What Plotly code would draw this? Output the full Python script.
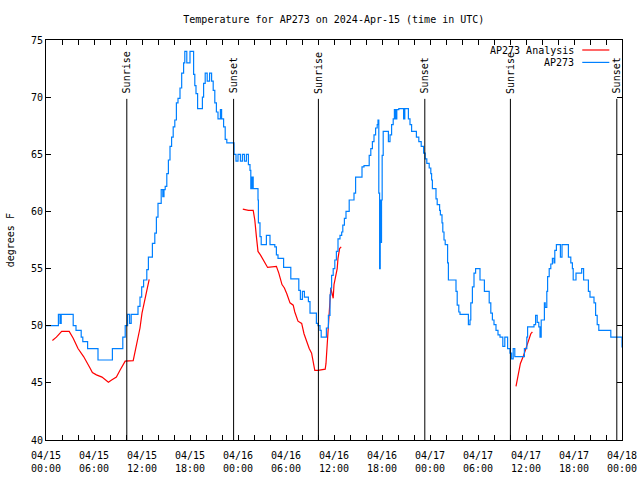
import pandas as pd
import plotly.graph_objects as go

# ---- data (hours since 2024-04-15 00:00 UTC) ----
obs_hours = [0, 1.55, 1.75, 1.9, 3.4, 3.75, 4.4, 4.6, 5.2, 6.5, 8.3, 9.6, 9.9,
             10.2, 10.45, 10.65, 11.5, 11.75, 11.96, 12.2, 12.6, 12.8, 13.3, 13.6, 13.8,
             14.0, 14.4, 14.6, 14.75, 14.9, 15.1, 15.3, 15.5, 15.7, 15.9, 16.1, 16.3, 16.5, 16.75,
             16.96, 17.2, 17.35, 17.6, 18.0, 18.45, 18.6, 18.75, 18.95, 19.55, 19.7, 19.9, 20.15,
             20.45, 20.7, 20.9, 21.1, 21.3, 21.5, 21.8, 21.95, 22.2, 22.4, 22.6, 23.5, 23.75,
             24.0, 24.3, 24.55, 24.8, 25.05, 25.3, 25.5, 25.6, 25.75, 25.9, 26.1, 26.5, 26.55,
             26.75, 26.9, 27.55, 28.0, 28.6, 28.8, 29.0, 29.7, 30.6,
             31.6, 31.8, 32.05, 32.3, 32.8, 33.0, 33.8, 34.0, 34.25, 34.4, 35.05, 35.3,
             35.5, 35.6, 35.7, 35.9, 36.1, 36.3, 36.5, 36.75, 36.96, 37.1, 37.3, 37.5, 37.9, 38.5,
             38.7, 39.5, 39.75, 40.4, 40.6, 40.8, 41.0, 41.2, 41.4, 41.5, 41.6, 41.7, 41.78, 41.86,
             41.94, 42.02, 42.15, 42.8, 43.0, 43.2, 43.4, 43.55, 43.7, 43.85, 44.1, 44.7, 44.85, 45.3,
             45.5, 45.7, 46.3, 46.6, 46.9, 47.2, 47.4, 47.6, 47.9, 48.1, 48.2, 48.3, 48.75, 48.9,
             49.2, 49.3, 49.5, 49.6, 49.75, 49.9, 50.2, 50.3, 51.25, 51.4, 51.6, 51.75, 52.8, 53.0,
             53.1, 53.3, 53.5, 53.7, 54.25, 54.8, 55.4, 55.6, 55.8, 56.0, 56.25, 56.5, 56.75, 57.1,
             57.35, 57.7, 58.0, 58.2, 58.4, 58.6, 59.8, 60.1, 60.2, 61.0, 61.2,
             61.4, 61.6, 61.75, 61.9, 62.3, 62.4, 62.6, 62.7, 62.9, 63.1, 63.3, 63.5, 63.6, 63.8,
             64.3, 64.5, 65.3, 65.6, 65.8, 65.9, 66.25, 66.96, 67.2, 67.8, 68.0, 68.5, 68.7, 68.9,
             69.1, 70.6, 72.0]
obs_temp = [50.0, 51.0, 50.2, 51.0, 50.0, 49.6, 49.0, 48.6, 48.0, 47.0, 48.0, 49.0, 50.0,
            51.0, 50.2, 51.0, 51.7, 52.5, 53.4, 54.0, 54.9, 56.0, 57.2, 58.1, 59.5,
            60.7, 61.9, 61.3, 61.9, 62.2, 63.3, 64.5, 65.7, 66.5, 67.4, 68.0, 69.5, 69.9, 70.8,
            72.1, 73.0, 74.0, 73.0, 74.0, 72.0, 71.0, 70.3, 69.0, 70.0, 71.2, 72.1, 71.4,
            72.1, 71.4, 70.6, 69.5, 68.7, 68.1, 68.9, 68.1, 67.4, 66.3, 66.0, 65.0, 64.4,
            65.0, 64.4, 65.0, 64.4, 65.0, 64.1, 63.6, 62.0, 63.0, 62.0, 62.0, 61.0, 59.0,
            57.8, 57.1, 57.9, 57.1, 56.9, 56.2, 55.9, 55.1, 54.1,
            53.1, 52.3, 53.0, 52.5, 52.1, 51.1, 50.2, 50.0, 49.6, 49.0, 49.8, 50.9,
            52.7, 53.3, 54.4, 55.0, 55.75, 56.5, 57.6, 57.9, 58.2, 58.8, 59.4, 60.0, 61.0, 61.6,
            63.0, 63.9, 64.0, 64.9, 65.5, 66.1, 66.7, 67.3, 67.6, 68.0, 61.6, 55.0, 61.0, 57.3,
            61.0, 64.9, 67.0, 66.1, 66.7, 67.6, 68.1, 68.9, 68.1, 68.9, 69.0, 68.1, 69.0, 68.1,
            67.6, 67.0, 66.5, 66.1, 65.7, 65.1, 64.6, 64.2, 63.8, 63.3, 62.75, 62.0, 61.1, 60.6,
            60.1, 59.7, 59.0, 58.2, 57.5, 57.1, 55.5, 54.0, 53.0, 51.8, 51.2, 51.0, 50.1, 50.5,
            52.0, 53.4, 54.6, 55.0, 54.0, 53.0, 52.0, 51.1, 50.5, 50.1, 49.6, 49.2, 49.0, 48.2,
            49.0, 48.0, 47.6, 47.1, 48.0, 47.3, 48.0, 49.0, 49.9, 50.1, 50.9, 50.3,
            49.9, 49.0, 50.5, 52.0, 51.6, 53.0, 54.3, 55.0, 55.4, 55.9, 55.5, 56.6, 57.1, 56.0,
            57.1, 56.0, 55.5, 55.0, 54.0, 54.6, 55.0, 54.0, 53.0, 52.5, 52.0, 50.9, 50.1, 49.6,
            49.0, 48.1, 48.1]

ana_hours = [0.8, 1.3, 1.96, 2.9, 3.4, 4.0, 4.7, 5.1, 5.5, 5.8, 6.3, 7.0, 7.6, 7.8, 8.2, 8.8, 9.25,
             9.6, 9.9, 10.9, 11.1, 11.3, 11.5, 11.75, 12.0, 12.3, 12.6, 12.9, None,
             24.6, 25.3, 25.9, 26.1, 26.3, 26.5, 26.8, 27.2, 27.5, 27.7, 28.8, 29.1, 29.5, 29.8,
             30.1, 30.5, 30.9, 31.1, 31.5, 31.96, 32.25, 32.6, 32.9, 33.2, 33.4, 33.6, 34.0, 34.9,
             35.0, 35.2, 35.3, 35.4, 35.5, 35.6, 35.8, 35.9, 36.0, 36.2, 36.4, 36.5, 36.7, 36.9, None,
             58.75, 59.0, 59.3, 59.7, 60.0, 60.3, 60.6, 60.8]
ana_temp = [48.7, 49.0, 49.5, 49.5, 48.9, 48.0, 47.3, 46.85, 46.3, 45.9, 45.7, 45.5, 45.2, 45.05, 45.25,
            45.5, 46.1, 46.6, 46.9, 46.95, 47.6, 48.2, 49.0, 49.8, 51.1, 52.0, 53.1, 54.05, None,
            60.2, 60.1, 60.1, 59.25, 57.8, 56.5, 56.2, 55.75, 55.3, 55.1, 55.2, 54.6, 53.6, 53.3,
            52.8, 52.0, 51.8, 51.2, 50.4, 50.2, 49.3, 48.5, 48.0, 47.6, 46.85, 46.1, 46.1, 46.2,
            46.7, 48.75, 50.1, 50.9, 51.8, 53.3, 52.7, 52.4, 53.6, 54.3, 55.0, 55.9, 56.75, 56.9, None,
            44.7, 45.7, 46.7, 47.4, 48.0, 48.75, 49.3, 49.45]

sun_events = ["Sunrise", "Sunset", "Sunrise", "Sunset", "Sunrise", "Sunset"]
sun_hours = [10.1, 23.45, 34.05, 47.35, 58.05, 71.35]

series_names = ["AP273 Analysis", "AP273"]
series_colors = ["#ff0000", "#0080ff"]

base = pd.Timestamp("2024-04-15 00:00")


def to_time(hours):
    return [None if h is None else base + pd.Timedelta(hours=h) for h in hours]


FONT = "DejaVu Sans Mono"

fig = go.Figure()
fig.add_trace(go.Scatter(x=to_time(ana_hours), y=ana_temp, mode="lines", name=series_names[0],
                         line=dict(color=series_colors[0], width=1.2), connectgaps=False,
                         showlegend=False))
fig.add_trace(go.Scatter(x=to_time(obs_hours), y=obs_temp, mode="lines", name=series_names[1],
                         line=dict(color=series_colors[1], width=1.2, shape="hv"),
                         showlegend=False))

line_top = 69.85
for name, h in zip(sun_events, sun_hours):
    t = base + pd.Timedelta(hours=h)
    fig.add_shape(type="line", xref="x", yref="y", x0=t, x1=t, y0=40, y1=line_top,
                  line=dict(color="black", width=1))
    fig.add_annotation(x=t, xref="x", y=0.861, yref="paper", text=name, textangle=-90,
                       showarrow=False, xanchor="center", yanchor="bottom",
                       font=dict(family=FONT, size=10, color="black"))

# manual legend (gnuplot style: text right, sample line to the right)
leg_y = [0.975, 0.944]
for name, col, yy in zip(series_names, series_colors, leg_y):
    fig.add_annotation(x=0.921, xref="paper", y=yy, yref="paper", text=name, showarrow=False,
                       xanchor="right", yanchor="middle",
                       font=dict(family=FONT, size=10, color="black"))
    fig.add_shape(type="line", xref="paper", yref="paper", x0=0.931, x1=0.978, y0=yy, y1=yy,
                  line=dict(color=col, width=1.2))

fig.add_annotation(x=-0.062, xref="paper", y=0.5, yref="paper", text="degrees F", textangle=-90,
                   showarrow=False, xanchor="center", yanchor="middle",
                   font=dict(family=FONT, size=10, color="black"))

fig.update_layout(
    width=640, height=480,
    margin=dict(l=46, r=18, t=40, b=40),
    paper_bgcolor="white", plot_bgcolor="white",
    font=dict(family=FONT, size=10, color="black"),
    title=dict(text="Temperature for AP273 on 2024-Apr-15 (time in UTC)", x=0.5216, xanchor="center",
               y=0.96, yanchor="middle", font=dict(family=FONT, size=10, color="black")),
    showlegend=False,
)
fig.update_xaxes(
    type="date", automargin=False,
    range=[base, base + pd.Timedelta(hours=72)],
    dtick=6 * 3600 * 1000, tick0=base,
    tickformat="%m/%d<br>%H:%M",
    ticks="inside", ticklen=5, tickcolor="black", ticklabelstandoff=6,
    minor=dict(dtick=2 * 3600 * 1000, ticks="inside", ticklen=5, tickcolor="black"),
    showline=True, linecolor="black", linewidth=1, mirror="allticks",
    showgrid=False, zeroline=False,
    tickfont=dict(family=FONT, size=10, color="black"),
)
fig.update_yaxes(
    automargin=False,
    range=[40, 75], dtick=5, tick0=40,
    ticks="inside", ticklen=5, tickcolor="black",
    showline=True, linecolor="black", linewidth=1, mirror="allticks",
    showgrid=False, zeroline=False,
    tickfont=dict(family=FONT, size=10, color="black"),
)

fig.write_html("out.html", config={"displayModeBar": False},
               post_script="document.body.style.margin='0px';")
